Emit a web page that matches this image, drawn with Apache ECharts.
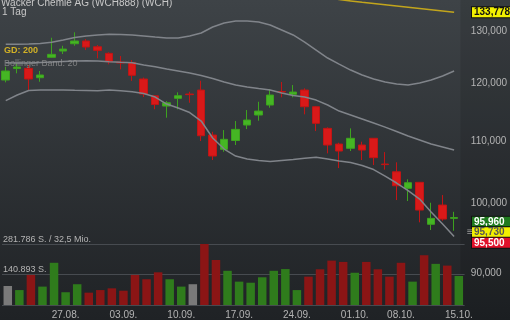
<!DOCTYPE html>
<html><head><meta charset="utf-8">
<script src="https://cdn.jsdelivr.net/npm/echarts@6/dist/echarts.min.js"></script>
<style>html,body{margin:0;padding:0;background:#2b2f33}#c{width:510px;height:320px}</style>
</head><body><div id="c"></div>
<script>
const dates = ['20.08.','21.08.','22.08.','23.08.','24.08.','27.08.','28.08.','29.08.','30.08.','31.08.',
 '03.09.','04.09.','05.09.','06.09.','07.09.','10.09.','11.09.','12.09.','13.09.','14.09.',
 '17.09.','18.09.','19.09.','20.09.','21.09.','24.09.','25.09.','26.09.','27.09.','28.09.',
 '01.10.','02.10.','04.10.','05.10.','08.10.','09.10.','10.10.','11.10.','12.10.','15.10.'];
const tickLabels = ['27.08.','03.09.','10.09.','17.09.','24.09.','01.10.','08.10.','15.10.'];
const priceTicks = [90, 100, 110, 120, 130];

const opens  = [120.67,122.80,122.84,121.10,124.91,126.11,127.52,128.05,126.94,125.67,
 124.02,123.93,120.86,117.81,115.99,117.36,118.13,118.85,110.99,108.60,
 110.07,112.69,114.42,116.17,118.58,118.08,118.85,115.87,112.12,109.48,
 108.77,109.32,110.44,106.20,104.96,102.35,103.29,96.90,99.78,97.78];
const closes = [122.34,123.08,120.86,121.60,125.48,126.49,128.05,126.88,126.24,124.08,
 123.84,121.54,118.13,116.26,116.57,117.83,118.02,110.87,107.50,110.27,
 111.95,113.55,115.11,117.95,118.49,118.49,115.87,112.98,109.32,108.32,
 110.44,108.48,107.23,106.11,102.75,103.23,99.02,97.78,97.68,97.90];
const lows   = [120.25,121.91,118.67,120.36,124.85,125.54,127.13,126.30,124.72,123.59,
 122.65,120.52,117.59,115.43,113.95,115.41,116.57,109.98,106.85,108.20,
 109.32,112.00,113.43,115.70,117.54,117.54,114.54,111.66,107.94,105.55,
 108.32,106.85,106.04,105.30,100.54,100.39,97.19,96.06,97.43,95.96];
const highs  = [123.14,123.78,123.46,122.34,128.69,127.13,129.76,128.44,127.27,125.86,
 125.16,124.40,121.13,117.85,116.87,118.44,118.54,120.54,111.54,111.83,
 113.38,115.29,116.75,119.03,120.31,119.76,119.16,115.99,112.29,109.70,
 112.12,109.87,110.49,108.15,106.48,103.76,103.34,100.13,101.31,98.76];

const volumes = [87800,69000,139000,85000,195000,59000,96000,57000,69000,77000,
 66000,139000,119000,151000,119000,85000,96000,281786,208000,158000,
 108000,103000,128000,158000,166000,69000,131000,165000,205000,199000,
 149000,199000,165000,131000,195000,108000,230000,190000,182000,134000];
const volDir = [0,1,-1,1,1,1,1,-1,-1,-1, -1,-1,-1,-1,1,1,0,-1,-1,1,
 1,1,1,1,1,1,-1,-1,-1,-1, 1,-1,-1,-1,-1,1,-1,1,-1,1];
const volMax = 281786;
const turnover = '32,5 Mio.';

const bbUpper = [127.41,127.43,127.46,127.56,127.79,128.24,128.73,129.03,129.23,129.36,
 129.32,129.23,129.03,128.83,128.64,128.64,129.03,129.62,130.8,131.6,
 132.0,132.0,131.8,131.2,130.21,129.23,127.85,126.30,124.78,123.64,
 122.52,121.60,120.86,120.31,119.94,119.76,120.12,120.67,121.41,122.34];
const bbMiddle = [123.89,123.84,123.84,123.93,124.02,124.12,124.21,124.27,124.21,124.08,
 123.97,123.89,123.46,123.14,122.71,122.34,121.97,121.50,120.95,120.31,
 119.76,119.40,119.12,118.85,118.31,117.86,117.59,117.05,116.17,115.11,
 114.42,113.72,113.03,112.34,111.58,110.82,110.15,109.48,108.98,108.48];
const bbLower = [116.96,117.95,118.76,118.85,118.85,118.85,118.80,118.76,118.72,118.85,
 118.71,118.54,118.22,117.59,116.35,115.64,114.85,113.38,110.49,108.65,
 107.50,107.01,106.77,106.61,106.77,106.93,107.13,107.29,107.01,106.69,
 106.44,105.96,105.31,104.28,103.18,102.00,100.69,98.72,96.94,95.13];
const gd200 = [null,null,null,null,null,null,null,null,null,null,
 null,null,null,null,null,null,null,null,null,null,
 null,null,null,null,null,null,null,137.0,136.7,136.4,
 136.1,135.8,135.55,135.3,135.05,134.8,134.55,134.3,134.05,133.778];
const quotes = [95.960, 95.730, 95.500];

function fmtPrice(v){ return v.toFixed(3).replace('.', ','); }
function fmtVol(v){ return String(Math.round(v)).replace(/\B(?=(\d{3})+(?!\d))/g, '.'); }

const chart = echarts.init(document.getElementById('c'));
const FONT = 'Arial, "Liberation Sans", sans-serif';
const candleData = dates.map((d, i) => [opens[i], closes[i], lows[i], highs[i]]);
const volColors = {'1': '#2f7c1c', '-1': '#8b1515', '0': '#7a7a7a'};
const volData = volumes.map((v, i) => ({value: v, itemStyle: {color: volColors[String(volDir[i])]}}));
const bandLine = {color: '#80848a', width: 1.5};

chart.setOption({
  animation: false,
  backgroundColor: {type: 'linear', x: 0, y: 0, x2: 0, y2: 1,
    colorStops: [{offset: 0, color: '#3e4347'}, {offset: 1, color: '#1f2225'}]},
  grid: [
    {left: 0, top: 0, width: 464.6, height: 306},
    {left: 0, top: 244, width: 464.6, height: 61}
  ],
  xAxis: [
    {type: 'category', data: dates, gridIndex: 0, boundaryGap: true, show: false},
    {type: 'category', data: dates, gridIndex: 1, boundaryGap: true,
      axisLine: {show: false}, axisTick: {show: false},
      axisLabel: {interval: (i, v) => tickLabels.includes(v), color: '#b4b4b4',
        fontSize: 10, fontFamily: FONT, margin: 5}}
  ],
  yAxis: [
    {type: 'log', logBase: 10, gridIndex: 0, position: 'right', min: 85.58, max: 136.29,
      axisLine: {show: false}, axisTick: {show: false}, splitLine: {show: false},
      axisLabel: {customValues: priceTicks, formatter: fmtPrice, color: '#b4b4b4',
        fontSize: 10, fontFamily: FONT, margin: 11, align: 'left'}},
    {type: 'value', gridIndex: 1, position: 'left', min: 0, max: volMax, interval: volMax / 2,
      axisLine: {show: false}, axisTick: {show: false},
      splitLine: {show: true, lineStyle: {color: '#474b50', width: 1}},
      axisLabel: {inside: true, margin: 1, verticalAlign: 'bottom', color: '#b4b4b4',
        fontSize: 9, fontFamily: FONT,
        formatter: v => v === 0 ? '' : (v >= volMax ? fmtVol(v) + ' S. / ' + turnover : fmtVol(v) + ' S.')}}
  ],
  series: [
    {type: 'bar', xAxisIndex: 1, yAxisIndex: 1, data: volData, barWidth: 8.5, z: 1},
    {type: 'candlestick', xAxisIndex: 0, yAxisIndex: 0, data: candleData, barWidth: 8, z: 3,
      itemStyle: {color: '#45b624', color0: '#d91919', borderColor: '#3da21f', borderColor0: '#c01515', borderWidth: 1}},
    {type: 'line', xAxisIndex: 0, yAxisIndex: 0, data: bbUpper, showSymbol: false, lineStyle: bandLine, z: 4},
    {type: 'line', xAxisIndex: 0, yAxisIndex: 0, data: bbMiddle, showSymbol: false, lineStyle: bandLine, z: 4},
    {type: 'line', xAxisIndex: 0, yAxisIndex: 0, data: bbLower, showSymbol: false, lineStyle: bandLine, z: 4},
    {type: 'line', xAxisIndex: 0, yAxisIndex: 0, data: gd200, showSymbol: false,
      lineStyle: {color: '#c2a51c', width: 1.5}, z: 4}
  ]
});

const yGd = chart.convertToPixel({yAxisIndex: 0}, gd200[gd200.length - 1]);
const yLast = chart.convertToPixel({yAxisIndex: 0}, quotes[1]);
const boxStyle = (text, y, bg, fg) => ({type: 'text', x: 472, y: y, z: 20,
  style: {text: text, fill: fg, backgroundColor: bg, font: 'bold 10px ' + FONT,
    verticalAlign: 'middle', align: 'left', padding: [1, 6, 0, 2], lineHeight: 9,
    borderColor: '#111', borderWidth: 1}});

chart.setOption({graphic: [
  {type: 'rect', x: 460.5, y: 0, z: -1, silent: true, shape: {width: 50, height: 320},
    style: {fill: 'rgba(0,0,0,0.10)'}},
  {type: 'text', x: 1, y: 3, z: 20, style: {text: 'Wacker Chemie AG (WCH888) (WCH)', fill: '#c8c8c8', font: '10px ' + FONT, verticalAlign: 'middle'}},
  {type: 'text', x: 2, y: 12, z: 20, style: {text: '1 Tag', fill: '#c8c8c8', font: '10px ' + FONT, verticalAlign: 'middle'}},
  {type: 'text', x: 4, y: 51, z: 20, style: {text: 'GD: 200', fill: '#d2b126', font: 'bold 9px ' + FONT, verticalAlign: 'middle'}},
  {type: 'text', x: 4, y: 64, z: 20, style: {text: 'Bollinger Band: 20', fill: 'rgba(150,150,150,0.75)', font: '9px ' + FONT, verticalAlign: 'middle'}},
  boxStyle(fmtPrice(gd200[gd200.length - 1]), yGd, '#f2f000', '#111'),
  boxStyle(fmtPrice(quotes[0]), yLast - 10.5, '#1f7a1f', '#ffffff'),
  boxStyle(fmtPrice(quotes[1]), yLast, '#f2f000', '#555'),
  boxStyle(fmtPrice(quotes[2]), yLast + 10.5, '#e0102a', '#ffffff'),
  {type: 'text', x: 467, y: yLast, z: 20, style: {text: '\u2261', fill: '#9a9a9a', font: '10px ' + FONT, verticalAlign: 'middle'}}
]});
</script>
</body></html>
